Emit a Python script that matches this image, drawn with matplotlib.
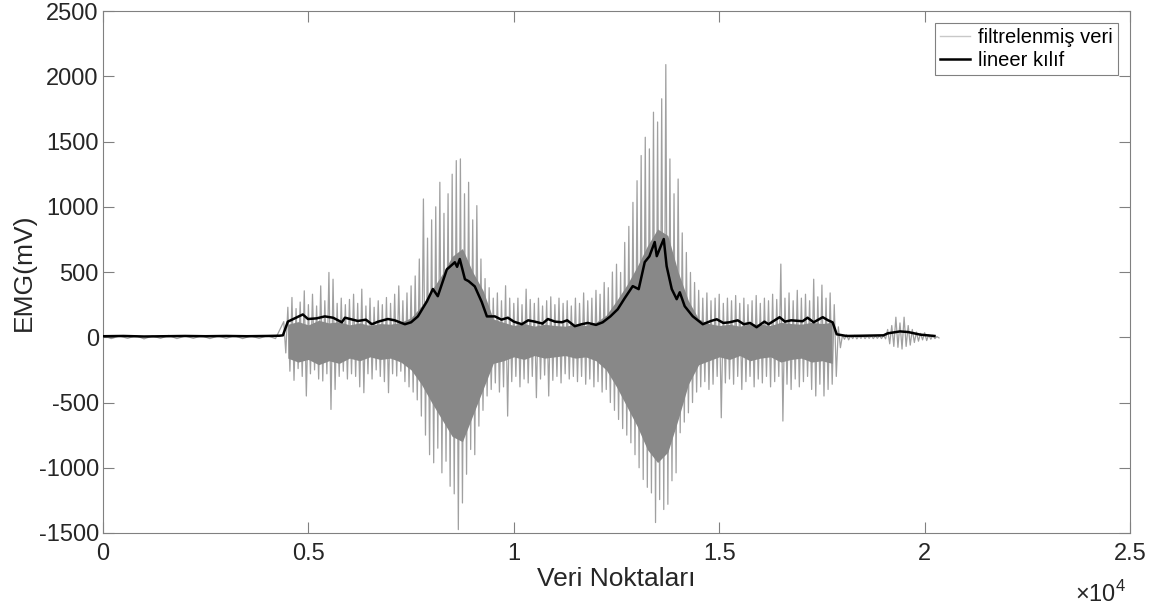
import numpy as np
import matplotlib
matplotlib.use("Agg")
import matplotlib.pyplot as plt

plt.rcParams['font.family'] = ['Liberation Sans', 'DejaVu Sans']
plt.rcParams['mathtext.fontset'] = 'custom'
plt.rcParams['mathtext.rm'] = 'Liberation Sans'
plt.rcParams['axes.unicode_minus'] = False

# ------------- DATA -------------
# quiet part before the contraction, every 400 samples
quiet_x = [0, 400, 800, 1200, 1600, 2000, 2400, 2800, 3200, 3600, 4000]
quiet_hi = [15, 10, 12, 10, 14, 10, 12, 10, 12, 10, 12]
quiet_lo = [-10, -8, -12, -8, -10, -8, -10, -8, -10, -8, -10]

# active part, spike tops / bottoms every 100 samples from 4400 to 17900
active_start = 4400
active_hi = [120, 230, 305, 220, 270, 356, 250, 330, 240, 394,
             280, 497, 445, 260, 300, 250, 290, 330, 260, 369,
             240, 300, 230, 280, 250, 305, 260, 330, 394, 280,
             340, 394, 470, 600, 1060, 760, 900, 1000, 1188, 950,
             1100, 1250, 1354, 1367, 1100, 1188, 900, 1009, 600, 450,
             380, 300, 340, 280, 395, 300, 260, 300, 250, 369,
             290, 260, 300, 240, 280, 310, 250, 300, 260, 280,
             240, 300, 260, 340, 280, 300, 360, 330, 420, 380,
             500, 560, 497, 727, 850, 1034, 1200, 1393, 1533, 1444,
             1725, 1650, 1828, 2090, 1367, 1100, 1213, 800, 650, 497,
             420, 360, 300, 340, 280, 300, 330, 260, 300, 280,
             320, 260, 300, 250, 280, 320, 260, 300, 280, 330,
             290, 561, 300, 340, 280, 360, 300, 330, 280, 445,
             310, 400, 300, 340, 250, 80]
active_lo = [-120, -260, -330, -240, -300, -450, -280, -250, -320, -335,
             -280, -553, -400, -300, -260, -320, -280, -300, -380, -425,
             -280, -320, -250, -300, -340, -425, -280, -297, -260, -340,
             -380, -420, -480, -604, -750, -900, -962, -850, -1039, -950,
             -1142, -1200, -1474, -1270, -1050, -860, -900, -681, -560, -450,
             -400, -350, -420, -380, -604, -340, -300, -380, -320, -350,
             -300, -463, -320, -290, -450, -330, -300, -350, -280, -320,
             -300, -340, -300, -360, -320, -380, -340, -420, -400, -500,
             -560, -630, -700, -750, -809, -900, -1000, -1090, -1150, -1193,
             -1420, -1244, -1320, -1280, -1100, -1039, -732, -650, -579, -500,
             -420, -380, -340, -400, -360, -300, -617, -350, -320, -360,
             -300, -400, -340, -300, -380, -320, -350, -300, -380, -340,
             -300, -642, -360, -400, -320, -380, -340, -300, -400, -450,
             -360, -450, -400, -360, -300, -80]

# tail with the small burst, every 100 samples from 18000 to 20300
tail_start = 18000
tail_hi = [15, 20, 12, 15, 10, 12, 10, 12, 10, 12, 15, 60,
           90, 154, 110, 154, 90, 60, 40, 30, 35, 20, 15, 5]
tail_lo = [-15, -20, -10, -12, -8, -10, -8, -10, -8, -10, -12, -50,
           -70, -77, -90, -70, -60, -40, -30, -20, -25, -15, -10, -5]

# dense core of the signal, every 250 samples from 4500 to 17750
core_start = 4500
core_hi = [100, 120, 95, 130, 110, 120, 95, 110, 90, 105,
           100, 115, 150, 240, 360, 480, 620, 680, 500, 360,
           140, 115, 90, 105, 85, 100, 90, 85, 100, 90,
           115, 170, 280, 400, 540, 700, 830, 780, 500, 280,
           140, 105, 90, 100, 85, 105, 100, 90, 115, 105,
           100, 115, 105, 115]
core_lo = [-160, -190, -170, -210, -180, -200, -160, -180, -150, -170,
           -160, -190, -250, -360, -500, -630, -760, -800, -600, -400,
           -200, -180, -150, -170, -140, -160, -150, -140, -160, -150,
           -180, -250, -380, -530, -680, -860, -960, -880, -630, -360,
           -210, -180, -150, -170, -140, -180, -160, -150, -190, -170,
           -160, -190, -180, -200]

# linear envelope
env_x = [0, 500, 1000, 1500, 2000, 2500, 3000, 3500, 4000, 4300,
         4380, 4500, 4700, 4865, 4990, 5200, 5400, 5600, 5815, 5890,
         6205, 6400, 6545, 6700, 6935, 7100, 7350, 7500, 7665, 7885,
         8030, 8150, 8370, 8565, 8620, 8685, 8810, 8900, 9050, 9220,
         9345, 9540, 9700, 9855, 10000, 10195, 10350, 10510, 10700, 10830,
         11000, 11170, 11300, 11485, 11650, 11800, 12000, 12165, 12350, 12530,
         12700, 12895, 13040, 13187, 13300, 13430, 13480, 13580, 13650, 13720,
         13845, 13965, 14040, 14160, 14355, 14600, 14800, 14940, 15100, 15255,
         15450, 15600, 15750, 15910, 16100, 16200, 16470, 16600, 16750, 17030,
         17150, 17300, 17520, 17650, 17760, 17860, 18100, 18500, 19000, 19100,
         19400, 19600, 19900, 20240]
env_y = [8, 10, 6, 8, 10, 8, 10, 8, 10, 12,
         15, 120, 150, 175, 140, 145, 160, 150, 115, 150,
         125, 135, 100, 120, 140, 130, 100, 115, 160, 275,
         370, 315, 520, 575, 540, 600, 445, 430, 390, 270,
         160, 160, 135, 150, 120, 100, 130, 120, 105, 140,
         120, 115, 130, 85, 100, 110, 95, 115, 160, 215,
         300, 392, 369, 576, 620, 730, 622, 700, 753, 545,
         369, 292, 345, 238, 161, 100, 125, 138, 110, 115,
         130, 100, 110, 77, 120, 100, 154, 120, 130, 123,
         150, 115, 154, 130, 115, 23, 10, 12, 15, 30,
         45, 40, 20, 10]

# ------------- BUILD THE ZIGZAG LINE -------------
def zigzag(x0, step, hi, lo):
    xs, ys = [], []
    for i, (h, l) in enumerate(zip(hi, lo)):
        xs += [x0 + i * step, x0 + i * step + step / 2]
        ys += [h, l]
    return xs, ys

qx, qy = [], []
for i, x in enumerate(quiet_x):
    qx += [x, x + 200]
    qy += [quiet_hi[i], quiet_lo[i]]
ax_, ay_ = zigzag(active_start, 100, active_hi, active_lo)
tx, ty = zigzag(tail_start, 100, tail_hi, tail_lo)
sig_x = qx + ax_ + tx
sig_y = qy + ay_ + ty

core_x = core_start + 250 * np.arange(len(core_hi))

# ------------- PLOT -------------
fig = plt.figure(figsize=(11.57, 6.09), dpi=100)
ax = fig.add_axes([0.089, 0.1248, 0.8877, 0.857])

ax.plot(sig_x, sig_y, color='#a0a0a0', lw=0.9, zorder=1, label='filtrelenmiş veri')
ax.fill_between(core_x, core_lo, core_hi, color='#888888', lw=0, zorder=2)
ax.plot(env_x, env_y, color='black', lw=1.8, zorder=3, label='lineer kılıf')

ax.set_xlim(0, 25000)
ax.set_ylim(-1500, 2500)
ax.set_xticks([0, 5000, 10000, 15000, 20000, 25000])
ax.set_xticklabels(['0', '0.5', '1', '1.5', '2', '2.5'])
ax.set_yticks(np.arange(-1500, 2501, 500))

ax.tick_params(direction='in', length=8, width=0.8, top=True, right=True,
               labelsize=17, colors='#808080', labelcolor='#262626', pad=3)
ax.tick_params(axis='x', pad=7)
for s in ax.spines.values():
    s.set_color('#808080')
    s.set_linewidth(0.8)

ax.set_xlabel('Veri Noktaları', fontsize=19, color='#262626', labelpad=2)
ax.set_ylabel('EMG(mV)', fontsize=19, color='#262626', labelpad=2)
fig.text(0.951, 0.012, r'$\times10^{4}$', fontsize=17, color='#262626', ha='center')

leg = ax.legend(loc='upper right', fontsize=14.5, fancybox=False, framealpha=1,
                edgecolor='#808080', borderpad=0.25, handlelength=1.5,
                handletextpad=0.4, labelspacing=0.2, borderaxespad=0.6)
leg.get_frame().set_linewidth(0.8)
leg.get_lines()[0].set_color('#c8c8c8')
leg.get_lines()[0].set_linewidth(1.0)

plt.savefig('out.png', dpi=100)
